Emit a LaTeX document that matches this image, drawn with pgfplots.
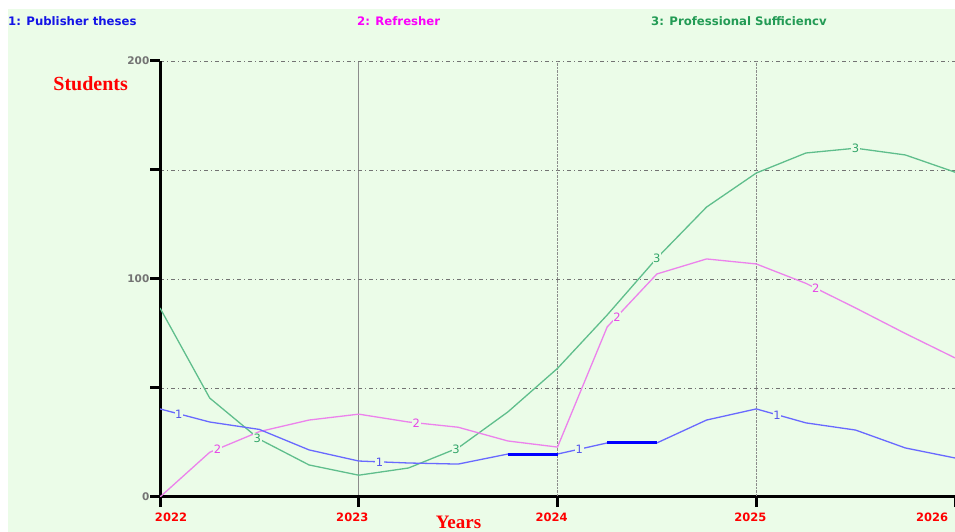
\documentclass[border=0pt]{standalone}
\usepackage{pgfplots}
\pgfplotsset{compat=1.18}
\usepackage{fontspec}
\setmainfont{DejaVu Sans}
\newfontfamily\dvs{DejaVu Sans}
\newfontfamily\lserif{Liberation Serif}
\definecolor{bgc}{RGB}{235,252,232}
\definecolor{lineA}{RGB}{105,105,255}
\definecolor{lineB}{RGB}{236,130,236}
\definecolor{lineC}{RGB}{95,190,140}
\definecolor{txtA}{RGB}{20,20,230}
\definecolor{txtB}{RGB}{250,0,250}
\definecolor{txtC}{RGB}{35,155,85}
\definecolor{numA}{RGB}{85,85,235}
\definecolor{numB}{RGB}{230,70,230}
\definecolor{numC}{RGB}{50,165,105}
\begin{document}
\begin{tikzpicture}
\path[use as bounding box] (-160pt,-35pt) rectangle (795pt,497pt);
\fill[white] (-160pt,-35pt) rectangle (795pt,497pt);
\fill[bgc] (-152pt,-35pt) rectangle (795pt,488pt);
\begin{axis}[
  scale only axis, width=795pt, height=436pt,
  xmin=2022, xmax=2026, ymin=0, ymax=200,
  axis x line=bottom, axis y line=left,
  axis line style={-, line width=3pt, black},
  tick align=outside, major tick length=10pt,
  tick style={line width=3pt, black},
  xtick={2022,2023,2026},
  xticklabels={\makebox[0pt][l]{\hspace{-5pt}2022},\makebox[0pt]{2023\hspace{13pt}},\makebox[0pt][r]{2026\hspace{7pt}}},
  extra x ticks={2024,2025},
  extra x tick labels={\makebox[0pt]{2024\hspace{12pt}},\makebox[0pt]{2025\hspace{12pt}}},
  extra x tick style={major grid style={black!65, densely dotted, line width=0.8pt}},
  xticklabel style={font=\dvs\bfseries\fontsize{11.5}{12}\selectfont, text=red, yshift=-2pt},
  ytick={0,50,100,150,200},
  yticklabels={0,,100,,200},
  yticklabel style={font=\dvs\bfseries\fontsize{10.5}{11}\selectfont, text=black!55, inner sep=0.5pt},
  xmajorgrids, ymajorgrids,
  x grid style={black!45, line width=0.8pt},
  y grid style={black!55, line width=0.9pt, dash pattern=on 4pt off 3pt on 1pt off 3pt},
]
\addplot[lineC, line width=1.3pt] coordinates {
(2022.00,86.7)(2022.25,45.4)(2022.50,26.5)(2022.75,14.7)(2023.00,10)(2023.25,13.3)
(2023.50,22.5)(2023.75,39)(2024.00,59)(2024.25,83.5)(2024.50,109.6)(2024.75,133)
(2025.00,148.6)(2025.25,157.8)(2025.50,160)(2025.75,156.9)(2026.00,149)};
\addplot[lineB, line width=1.3pt] coordinates {
(2022.00,0)(2022.25,20.5)(2022.50,30)(2022.75,35.3)(2023.00,38)(2023.25,34.4)
(2023.50,32)(2023.75,25.7)(2024.00,22.9)(2024.25,78)(2024.50,102.3)(2024.75,109.2)
(2025.00,106.9)(2025.25,98)(2025.50,86.7)(2025.75,75)(2026.00,63.8)};
\addplot[lineA, line width=1.3pt] coordinates {
(2022.00,40.4)(2022.25,34.4)(2022.50,31)(2022.75,21.6)(2023.00,16.5)(2023.25,15.6)
(2023.50,15.1)(2023.75,19.7)(2024.00,19.7)(2024.25,24.8)(2024.50,24.8)(2024.75,35.3)
(2025.00,40.4)(2025.25,34)(2025.50,30.7)(2025.75,22.5)(2026.00,17.9)};
\addplot[blue, line width=3pt] coordinates {(2023.75,19.7)(2024.00,19.7)};
\addplot[blue, line width=3pt] coordinates {(2024.25,24.8)(2024.50,24.8)};
% in-line series numbers
\addplot[draw=none, nodes near coords={1}, nodes near coords align=center,
  every node near coord/.append style={fill=bgc, inner sep=0.6pt, text=numA, font=\dvs\fontsize{11.5}{12}\selectfont}]
  coordinates {(2022.095,38.1)(2023.105,16.1)(2024.11,21.9)(2025.105,37.7)};
\addplot[draw=none, nodes near coords={2}, nodes near coords align=center,
  every node near coord/.append style={fill=bgc, inner sep=0.6pt, text=numB, font=\dvs\fontsize{11.5}{12}\selectfont}]
  coordinates {(2022.29,22)(2023.29,34.0)(2024.30,82.5)(2025.30,95.7)};
\addplot[draw=none, nodes near coords={3}, nodes near coords align=center,
  every node near coord/.append style={fill=bgc, inner sep=0.6pt, text=numC, font=\dvs\fontsize{11.5}{12}\selectfont}]
  coordinates {(2022.49,27)(2023.49,22.0)(2024.50,109.6)(2025.50,160)};
\end{axis}
\node[anchor=base west, inner sep=0, text=txtA, font=\dvs\bfseries\fontsize{11.7}{12}\selectfont] at (-152pt,471pt) {1: Publisher theses};
\node[anchor=base west, inner sep=0, text=txtB, font=\dvs\bfseries\fontsize{11.7}{12}\selectfont] at (197pt,471pt) {2: Refresher};
\node[anchor=base west, inner sep=0, text=txtC, font=\dvs\bfseries\fontsize{11.7}{12}\selectfont] at (491pt,471pt) {3: Professional Sufficiencv};
\node[anchor=base, inner sep=0, text=red, font=\lserif\bfseries\fontsize{20}{22}\selectfont] at (-69.3pt,406pt) {Students};
\node[anchor=base, inner sep=0, text=red, font=\lserif\bfseries\fontsize{19}{21}\selectfont] at (298.5pt,-32pt) {Years};
\end{tikzpicture}
\end{document}
